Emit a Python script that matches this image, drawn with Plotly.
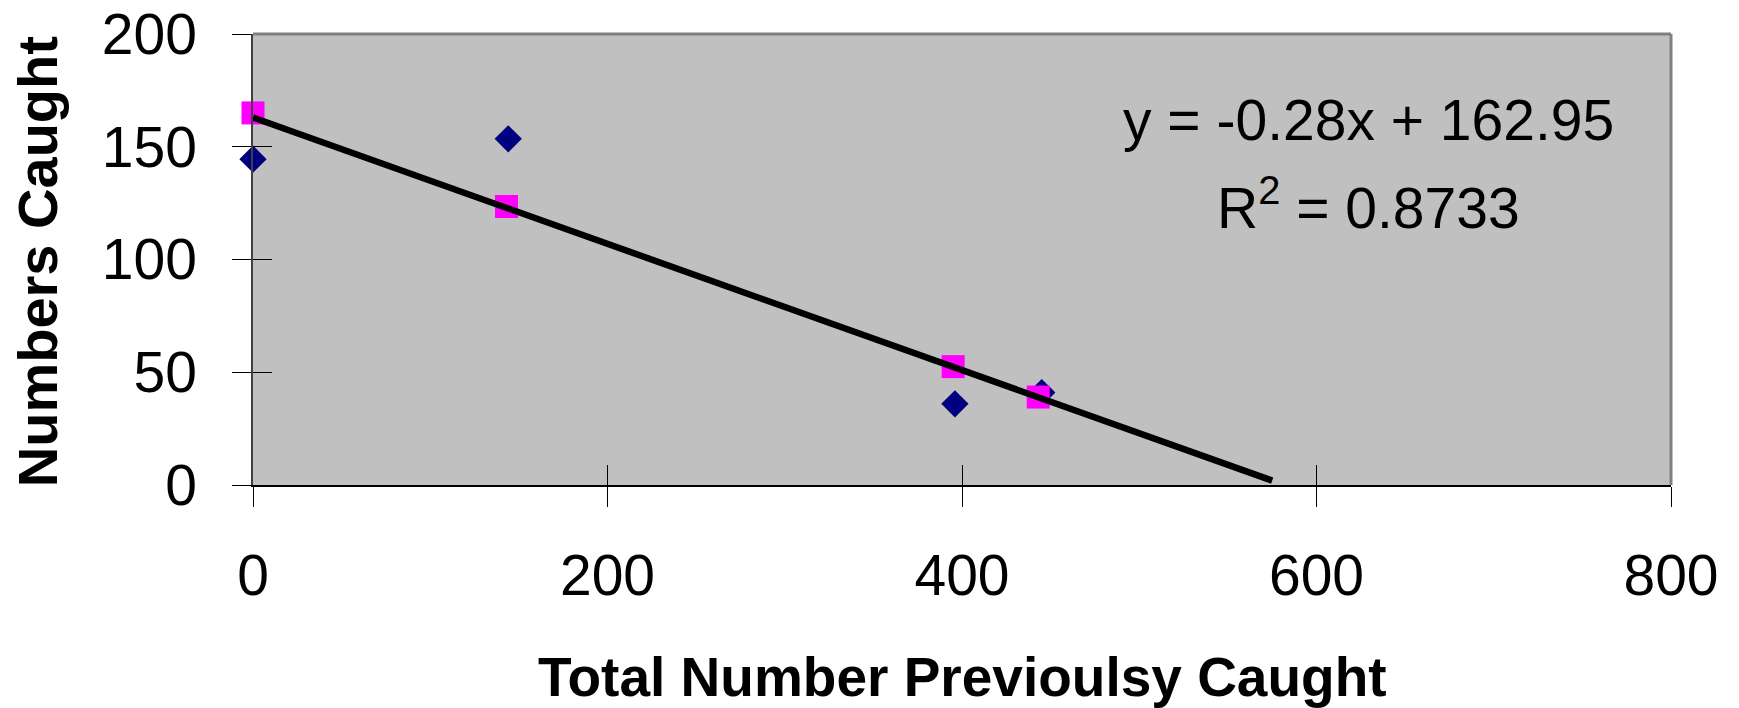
import plotly.graph_objects as go

# ---- data ----
series_a_x = [0, 144, 396, 445]      # navy diamonds
series_a_y = [144.5, 153.5, 36, 41]
series_b_x = [0, 143, 395, 443]      # magenta squares
series_b_y = [165, 123.5, 52.5, 39]
trend_slope = -0.28
trend_intercept = 162.95
trend_x = [0, 575]
trend_y = [trend_slope * v + trend_intercept for v in trend_x]

x_ticks = [0, 200, 400, 600, 800]
y_ticks = [0, 50, 100, 150, 200]

FONT = "Liberation Sans, Arial, sans-serif"

fig = go.Figure()
fig.add_trace(go.Scatter(x=series_a_x, y=series_a_y, mode="markers", cliponaxis=False,
                         marker=dict(symbol="diamond", size=21, color="#000080",
                                     line=dict(width=0)), showlegend=False))
fig.add_trace(go.Scatter(x=series_b_x, y=series_b_y, mode="markers", cliponaxis=False,
                         marker=dict(symbol="square", size=23, color="#FF00FF",
                                     line=dict(width=0)), showlegend=False))
fig.add_trace(go.Scatter(x=trend_x, y=trend_y, mode="lines",
                         line=dict(color="black", width=6.5), showlegend=False))
# invisible trace for overlay axes (inside tick marks)
fig.add_trace(go.Scatter(x=[None], y=[None], xaxis="x2", yaxis="y2",
                         mode="markers", showlegend=False, hoverinfo="skip"))

fig.update_layout(
    width=1731, height=700,
    margin=dict(l=245, r=68, t=26, b=223),
    paper_bgcolor="white", plot_bgcolor="#C0C0C0",
    font=dict(family=FONT, size=56, color="black"),
    xaxis=dict(range=[0, 800], tickvals=x_ticks, ticktext=[str(v) for v in x_ticks],
               automargin=False, ticklabeloverflow="allow",
               showgrid=False, zeroline=False, showline=True, linecolor="black", linewidth=2,
               ticks="outside", ticklen=20, tickwidth=1, tickcolor="black",
               ticklabelstandoff=20, tickfont=dict(size=57)),
    yaxis=dict(range=[0, 200], tickvals=y_ticks, ticktext=[str(v) for v in y_ticks],
               automargin=False, ticklabeloverflow="allow",
               showgrid=False, zeroline=False, showline=True, linecolor="#404040", linewidth=1.5,
               ticks="outside", ticklen=19, tickwidth=1, tickcolor="black",
               ticklabelstandoff=24, tickfont=dict(size=57)),
    xaxis2=dict(range=[0, 800], tickvals=x_ticks, overlaying="x", anchor="y2", side="bottom",
                automargin=False,
                showgrid=False, zeroline=False, showline=False, showticklabels=False,
                ticks="inside", ticklen=20, tickwidth=1, tickcolor="black"),
    yaxis2=dict(range=[0, 200], tickvals=y_ticks, overlaying="y", anchor="x2", side="left",
                automargin=False,
                showgrid=False, zeroline=False, showline=False, showticklabels=False,
                ticks="inside", ticklen=19, tickwidth=1, tickcolor="black"),
    shapes=[
        dict(type="line", xref="paper", yref="paper", x0=0, x1=1, y0=1, y1=1,
             line=dict(color="#808080", width=3)),
        dict(type="line", xref="paper", yref="paper", x0=1, x1=1, y0=0, y1=1,
             line=dict(color="#808080", width=3)),
    ],
    annotations=[
        dict(text="y = -0.28x + 162.95", x=629.5, y=162, xref="x", yref="y",
             showarrow=False, xanchor="center", yanchor="middle",
             font=dict(size=57, color="black", family=FONT)),
        dict(text="R<sup>2</sup> = 0.8733", x=629.5, y=124.5, xref="x", yref="y",
             showarrow=False, xanchor="center", yanchor="middle",
             font=dict(size=57, color="black", family=FONT)),
        dict(text="<b>Total Number Previoulsy Caught</b>", x=0.5, y=-0.4257,
             xref="paper", yref="paper", showarrow=False, xanchor="center", yanchor="middle",
             font=dict(size=55, color="black", family=FONT)),
        dict(text="<b>Numbers Caught</b>", x=-0.152, y=0.495,
             xref="paper", yref="paper", showarrow=False, xanchor="center", yanchor="middle",
             textangle=-90, font=dict(size=56, color="black", family=FONT)),
    ],
)

fig.write_html("out.html")
